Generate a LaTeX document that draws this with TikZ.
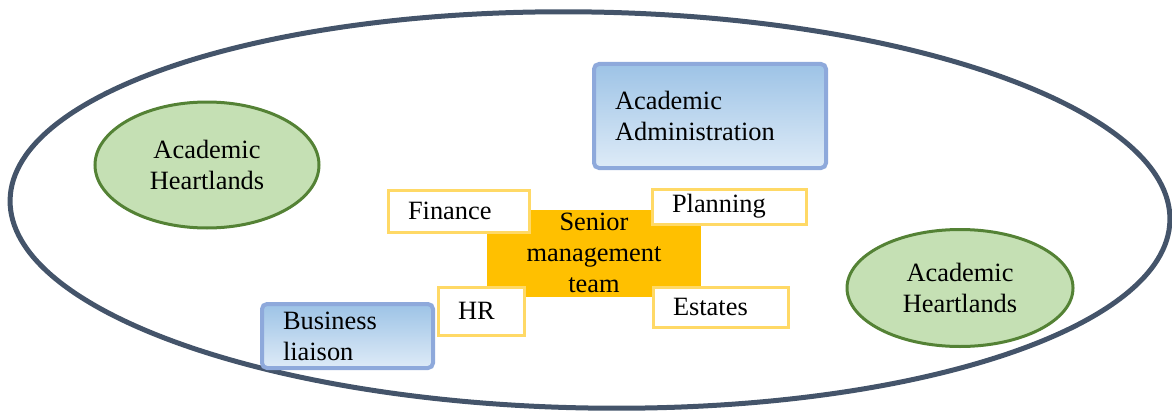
\documentclass[tikz,border=0pt]{standalone}
\usepackage{fontspec}
\setmainfont{Liberation Serif}
\usetikzlibrary{shapes.geometric}

\definecolor{rim}{HTML}{44546A}
\definecolor{leaf}{HTML}{C5E0B4}
\definecolor{leafrim}{HTML}{548235}
\definecolor{sky}{HTML}{9DC3E6}
\definecolor{skylight}{HTML}{DEEBF7}
\definecolor{skyrim}{HTML}{8EA9DB}
\definecolor{gold}{HTML}{FFC000}
\definecolor{goldrim}{HTML}{FFD966}

\begin{document}
\begin{tikzpicture}[x=1pt,y=-1pt,font=\rmfamily\fontsize{26.4}{31}\selectfont,
                outer node/.style={ellipse,draw=rim,line width=5pt,inner sep=0pt},
                heart node/.style={ellipse,draw=leafrim,fill=leaf,line width=3pt,align=center,inner sep=0pt},
                admin node/.style={rectangle,rounded corners=5pt,draw=skyrim,line width=4pt,
                  top color=sky,bottom color=skylight,align=left,inner xsep=21pt,inner ysep=0pt,text width=#1},
                core node/.style={rectangle,fill=gold,align=center,inner sep=0pt},
                unit node/.style={rectangle,draw=goldrim,fill=white,line width=3pt,align=left,
                  inner xsep=20pt,inner ysep=0pt,text width=#1}]
  \useasboundingbox (0,0) rectangle (1172,412);

  \node[outer node,minimum width=1160pt,minimum height=396pt,rotate=-1] (campus) at (590,210) {};

  \node[heart node,minimum width=224pt,minimum height=126pt] (heartw) at (207,165) {Academic\\Heartlands};
  \node[heart node,minimum width=226pt,minimum height=117pt] (hearte) at (960,288) {Academic\\Heartlands};

  \node[admin node=190pt,minimum height=104pt] (admin) at (710,116) {Academic\\Administration};
  \node[admin node=129pt,minimum height=64pt] (liaison) at (347.5,336) {Business\\liaison};

  \node[core node,minimum width=214pt,minimum height=87pt] (smt) at (594,253) {Senior\\management\\team};

  \node[unit node=101pt,minimum height=42pt] (finance) at (458.5,211) {Finance};
  \node[unit node=114pt,minimum height=35pt] (planning) at (729,206.5) {Planning};
  \node[unit node=46pt,minimum height=48pt] (hr) at (481,311) {HR};
  \node[unit node=95pt,minimum height=40pt] (estates) at (720.5,307) {Estates};
\end{tikzpicture}
\end{document}
